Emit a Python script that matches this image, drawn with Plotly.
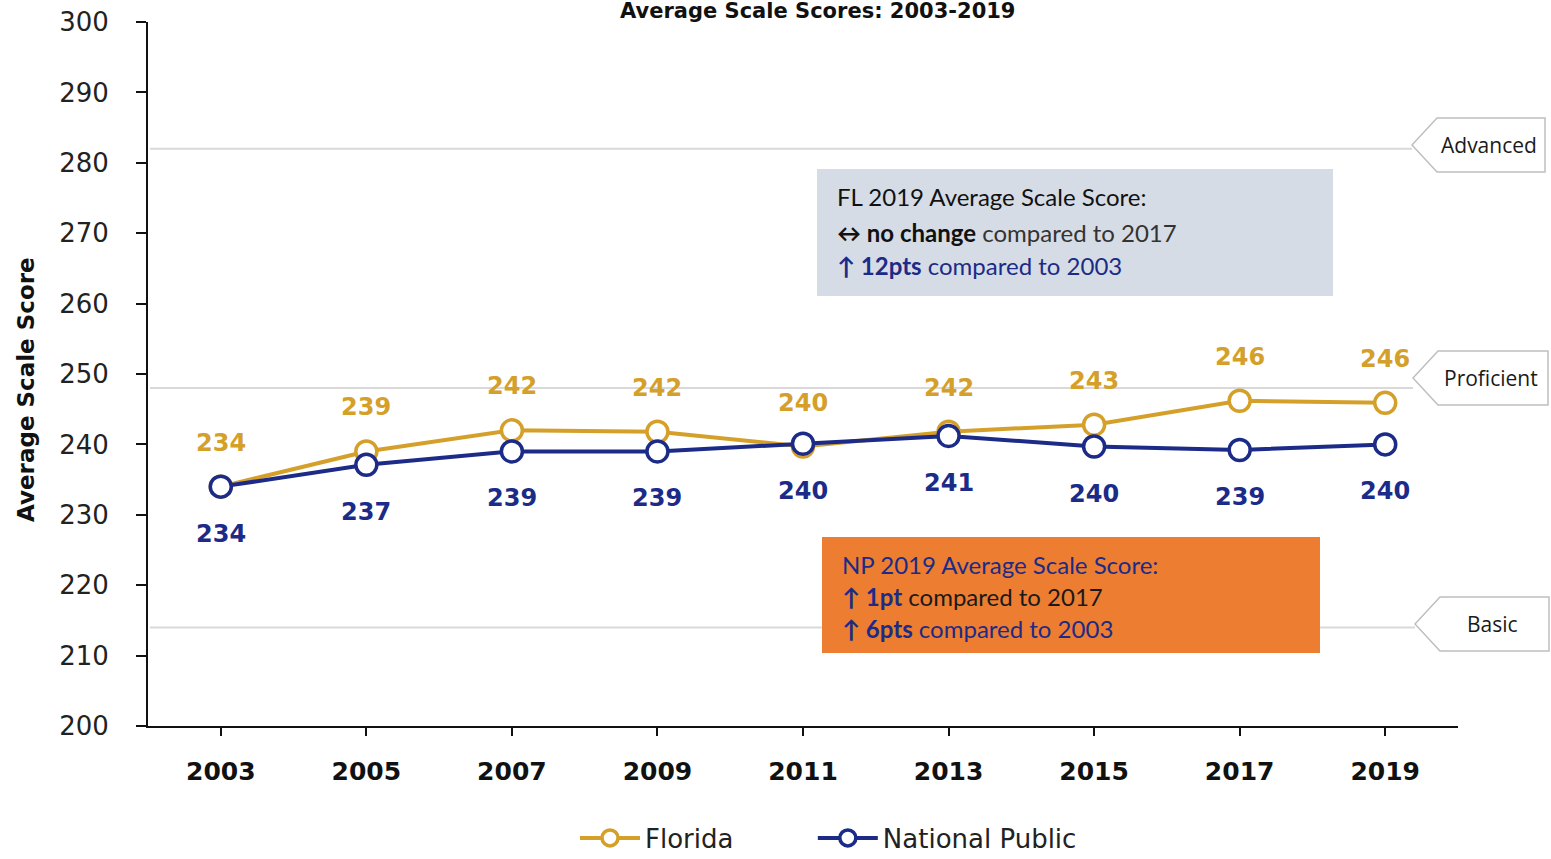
import plotly.graph_objects as go

# ---------------- data ----------------
years = ["2003", "2005", "2007", "2009", "2011", "2013", "2015", "2017", "2019"]
florida = [234.0, 239.0, 242.0, 241.8, 239.7, 241.8, 242.8, 246.2, 245.9]
national_public = [234.0, 237.1, 239.0, 239.0, 240.1, 241.2, 239.7, 239.2, 240.0]
florida_labels = ["234", "239", "242", "242", "240", "242", "243", "246", "246"]
np_labels = ["234", "237", "239", "239", "240", "241", "240", "239", "240"]
series_names = ["Florida", "National Public"]
benchmark_names = ["Advanced", "Proficient", "Basic"]
benchmark_values = [282, 248, 214]
y_ticks = [200, 210, 220, 230, 240, 250, 260, 270, 280, 290, 300]

# ---------------- layout geometry ----------------
W, H = 1551, 859
L, R, T, B = 148, 93, 22, 133
PW, PH = W - L - R, H - T - B

def px(x):
    return (x - L) / PW

def py(y):
    return (H - B - y) / PH

GOLD = "#D4A02A"
NAVY = "#1B2B87"
xs = list(range(len(years)))

fig = go.Figure()
fig.add_trace(go.Scatter(
    x=xs, y=florida, name=series_names[0] + "\u00a0" * 9, mode="lines+markers",
    line=dict(color=GOLD, width=4),
    marker=dict(symbol="circle", size=21, color="white", line=dict(color=GOLD, width=3.5)),
))
fig.add_trace(go.Scatter(
    x=xs, y=national_public, name=series_names[1], mode="lines+markers",
    line=dict(color=NAVY, width=4),
    marker=dict(symbol="circle", size=21, color="white", line=dict(color=NAVY, width=3.5)),
))

annotations = []
# data labels
for i, (v, t) in enumerate(zip(florida, florida_labels)):
    annotations.append(dict(x=i, y=v, xref="x", yref="y", text=f"<b>{t}</b>", showarrow=False,
                            yshift=44, font=dict(family="DejaVu Sans", size=24, color=GOLD)))
for i, (v, t) in enumerate(zip(national_public, np_labels)):
    annotations.append(dict(x=i, y=v, xref="x", yref="y", text=f"<b>{t}</b>", showarrow=False,
                            yshift=-47, font=dict(family="DejaVu Sans", size=24, color=NAVY)))

shapes = []
# benchmark lines and tags
tag_centers = [145, 378, 624]
tag_tips = [1412, 1413, 1415]
tag_rights = [1545, 1548, 1549]
for name, val, cy, tip, right in zip(benchmark_names, benchmark_values, tag_centers, tag_tips, tag_rights):
    shapes.append(dict(type="line", xref="paper", yref="y", x0=px(150), x1=px(tip), y0=val, y1=val,
                       line=dict(color="#D9D9D9", width=2), layer="below"))
    pts = [(tip, cy), (tip + 25, cy - 27), (right, cy - 27), (right, cy + 27), (tip + 25, cy + 27)]
    path = "M " + " L ".join(f"{px(a)},{py(b)}" for a, b in pts) + " Z"
    shapes.append(dict(type="path", xref="paper", yref="paper", path=path,
                       fillcolor="white", line=dict(color="#BFBFBF", width=1.5)))
    annotations.append(dict(x=px((tip + 20 + right) / 2), y=py(cy), xref="paper", yref="paper",
                            text=name, showarrow=False, xanchor="center", yanchor="middle",
                            font=dict(family="Open Sans", size=21, color="#1a1a1a")))

# FL text box
shapes.append(dict(type="rect", xref="paper", yref="paper", x0=px(817), x1=px(1333), y0=py(296), y1=py(169),
                   fillcolor="#D6DCE5", line=dict(width=0)))
fl_lines = [
    (196, "<span style='color:#111111'>FL 2019 Average Scale Score:</span>"),
    (233, "<span style='color:#111111'><b>\u2194 no change</b></span> <span style='color:#333333'>compared to 2017</span>"),
    (265, f"<span style='color:{NAVY}'><b>\u2191 12pts</b> compared to 2003</span>"),
]
for yy, txt in fl_lines:
    annotations.append(dict(x=px(835), y=py(yy), xref="paper", yref="paper", text=txt, showarrow=False,
                            xanchor="left", yanchor="middle", font=dict(family="Lato", size=24)))

# NP text box
shapes.append(dict(type="rect", xref="paper", yref="paper", x0=px(822), x1=px(1320), y0=py(653), y1=py(537),
                   fillcolor="#ED7D31", line=dict(width=0)))
np_lines = [
    (564, f"<span style='color:{NAVY}'>NP 2019 Average Scale Score:</span>"),
    (596, f"<span style='color:{NAVY}'><b>\u2191 1pt</b></span> <span style='color:#1a1a1a'>compared to 2017</span>"),
    (628, f"<span style='color:{NAVY}'><b>\u2191 6pts</b> compared to 2003</span>"),
]
for yy, txt in np_lines:
    annotations.append(dict(x=px(840), y=py(yy), xref="paper", yref="paper", text=txt, showarrow=False,
                            xanchor="left", yanchor="middle", font=dict(family="Lato", size=24)))

# title and y-axis title
annotations.append(dict(x=px(817), y=py(11), xref="paper", yref="paper",
                        text="<b>Average Scale Scores: 2003-2019</b>", showarrow=False,
                        xanchor="center", yanchor="middle",
                        font=dict(family="DejaVu Sans", size=21, color="#111111")))
annotations.append(dict(x=px(26), y=py(390), xref="paper", yref="paper",
                        text="<b>Average Scale Score</b>", showarrow=False, textangle=-90,
                        xanchor="center", yanchor="middle",
                        font=dict(family="DejaVu Sans", size=23, color="#111111")))

fig.update_layout(
    width=W, height=H,
    margin=dict(l=L, r=R, t=T, b=B, autoexpand=False),
    paper_bgcolor="white", plot_bgcolor="white",
    showlegend=True,
    legend=dict(orientation="h", x=px(575), xanchor="left", y=py(838), yanchor="middle",
                font=dict(family="DejaVu Sans", size=26, color="#222222"),
                itemwidth=60, bgcolor="rgba(0,0,0,0)"),
    xaxis=dict(range=[-0.5, 8.5], tickmode="array", tickvals=xs, ticktext=[f"<b>{y}</b>" for y in years],
               showgrid=False, zeroline=False, showline=True, linecolor="#111111", linewidth=2,
               ticks="outside", ticklen=8, tickwidth=1.5, tickcolor="#111111",
               tickfont=dict(family="DejaVu Sans", size=25, color="#111111"), ticklabelstandoff=14),
    yaxis=dict(range=[200, 300], tickmode="array", tickvals=y_ticks,
               showgrid=False, zeroline=False, showline=True, linecolor="#111111", linewidth=2,
               ticks="outside", ticklen=10, tickwidth=1.5, tickcolor="#111111",
               tickfont=dict(family="DejaVu Sans", size=26, color="#222222"), ticklabelstandoff=22),
    shapes=shapes,
    annotations=annotations,
)

fig.write_html("out.html", config={"displayModeBar": False},
               post_script="document.body.style.margin='0';document.body.style.overflow='hidden';")
